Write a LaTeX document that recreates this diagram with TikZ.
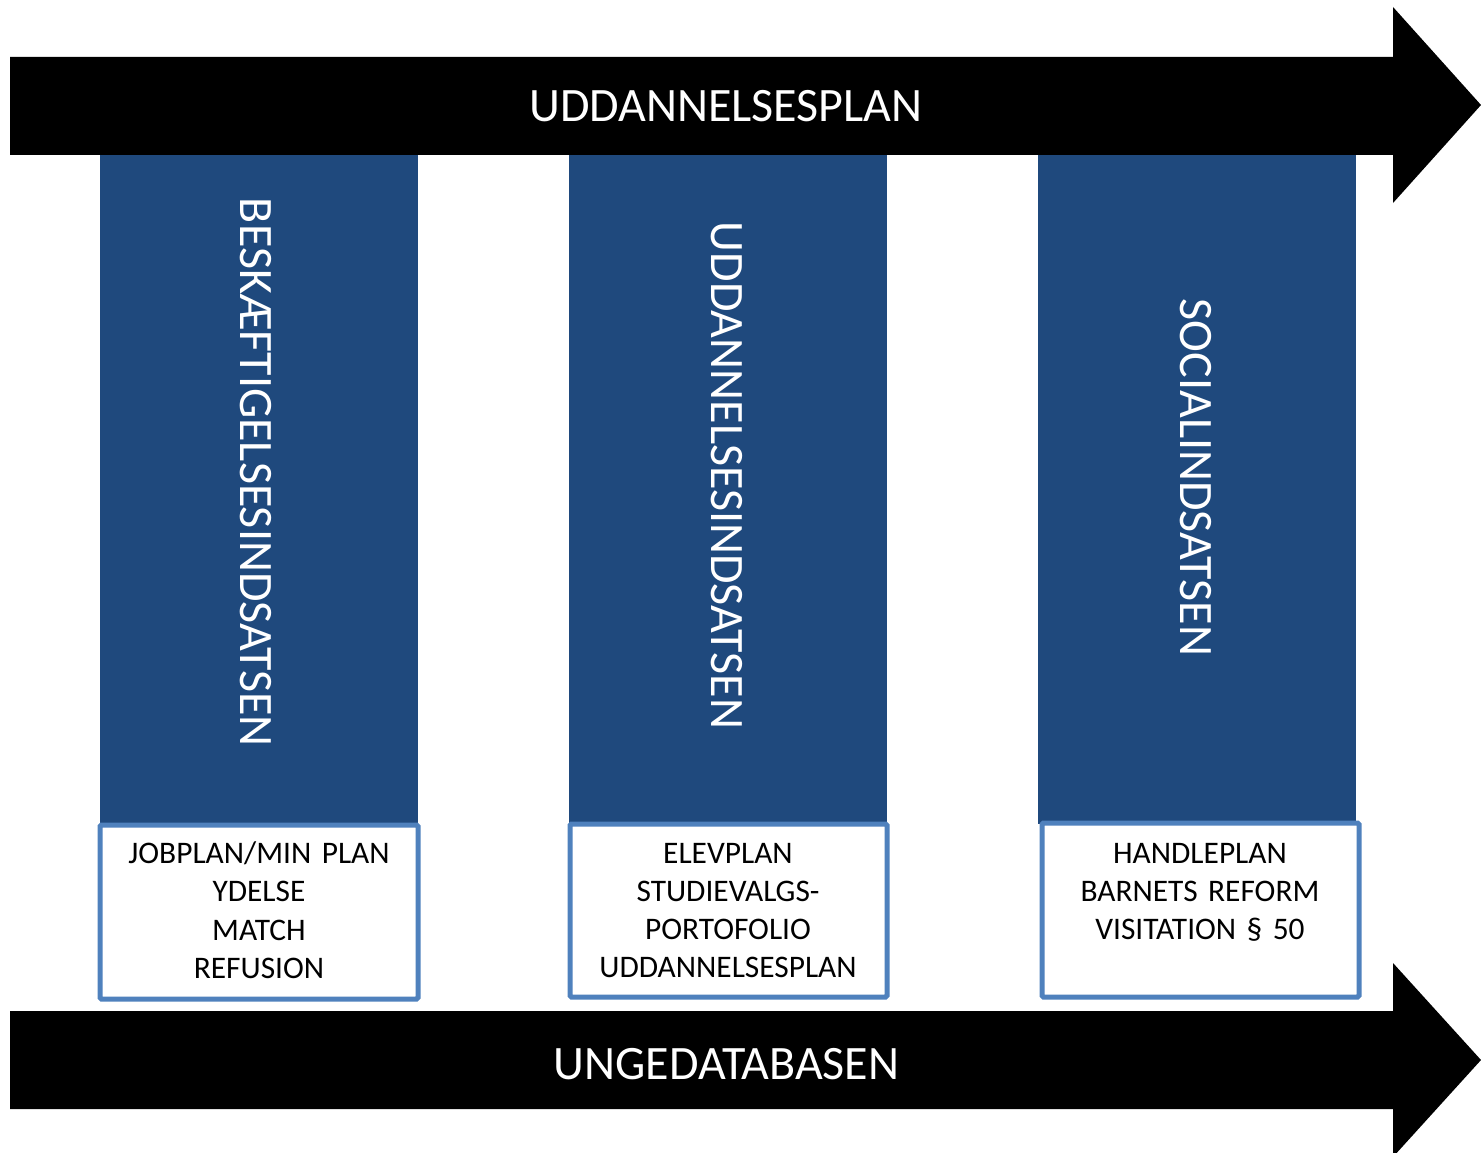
\documentclass[tikz,border=0pt]{standalone}
\usepackage{fontspec}
\setmainfont{Carlito}
\definecolor{colblue}{HTML}{1F497D}
\definecolor{boxline}{HTML}{4F81BD}
\tikzset{
  bigarrow/.style={fill=black, draw=none},
  pillar/.style={fill=colblue, draw=none},
  planbox/.style={fill=white, draw=boxline, line width=5pt, rounded corners=1.5pt},
  arrowtext/.style={text=white, font=\fontsize{48}{58}\selectfont, inner sep=0pt, anchor=base},
  pillartext/.style={text=white, font=\fontsize{48}{58}\selectfont, inner sep=0pt, anchor=base, rotate=-90},
  boxtext/.style={text=black, font=\fontsize{31.4}{38.3}\selectfont, inner sep=0pt, anchor=base, text width=310pt, align=center}
}
\begin{document}
\begin{tikzpicture}[x=1pt,y=-1pt]
\useasboundingbox (0,0) rectangle (1481,1153);
% top arrow
\fill[bigarrow] (10,57) -- (1393,57) -- (1393,7) -- (1481,105) -- (1393,203) -- (1393,155) -- (10,155) -- cycle;
\node[arrowtext] (toptext) at (726,122) {UDDANNELSESPLAN};
% pillars
\fill[pillar] (100,155) rectangle (418,824);
\fill[pillar] (569,155) rectangle (887,824);
\fill[pillar] (1038,155) rectangle (1356,824);
\node[pillartext] (p1) at (240,472.5) {BESKÆFTIGELSESINDSATSEN};
\node[pillartext] (p2) at (711,475.5) {UDDANNELSESINDSATSEN};
\node[pillartext] (p3) at (1180,477.5) {SOCIALINDSATSEN};
% boxes
\draw[planbox] (100,825) rectangle (418,999);
\draw[planbox] (570,824) rectangle (887,997);
\draw[planbox] (1042,823) rectangle (1359,997);
\node[boxtext] (b1) at (259,863.5) {JOBPLAN/MIN PLAN\\YDELSE\\MATCH\\REFUSION};
\node[boxtext] (b2) at (728,863) {ELEVPLAN\\STUDIEVALGS-\\PORTOFOLIO\\UDDANNELSESPLAN};
\node[boxtext] (b3) at (1200,863) {HANDLEPLAN\\BARNETS REFORM\\VISITATION § 50};
% bottom arrow
\fill[bigarrow] (10,1011) -- (1393,1011) -- (1393,963) -- (1481,1060) -- (1393,1157) -- (1393,1109) -- (10,1109) -- cycle;
\node[arrowtext] (bottext) at (726.5,1079) {UNGEDATABASEN};
\end{tikzpicture}
\end{document}
